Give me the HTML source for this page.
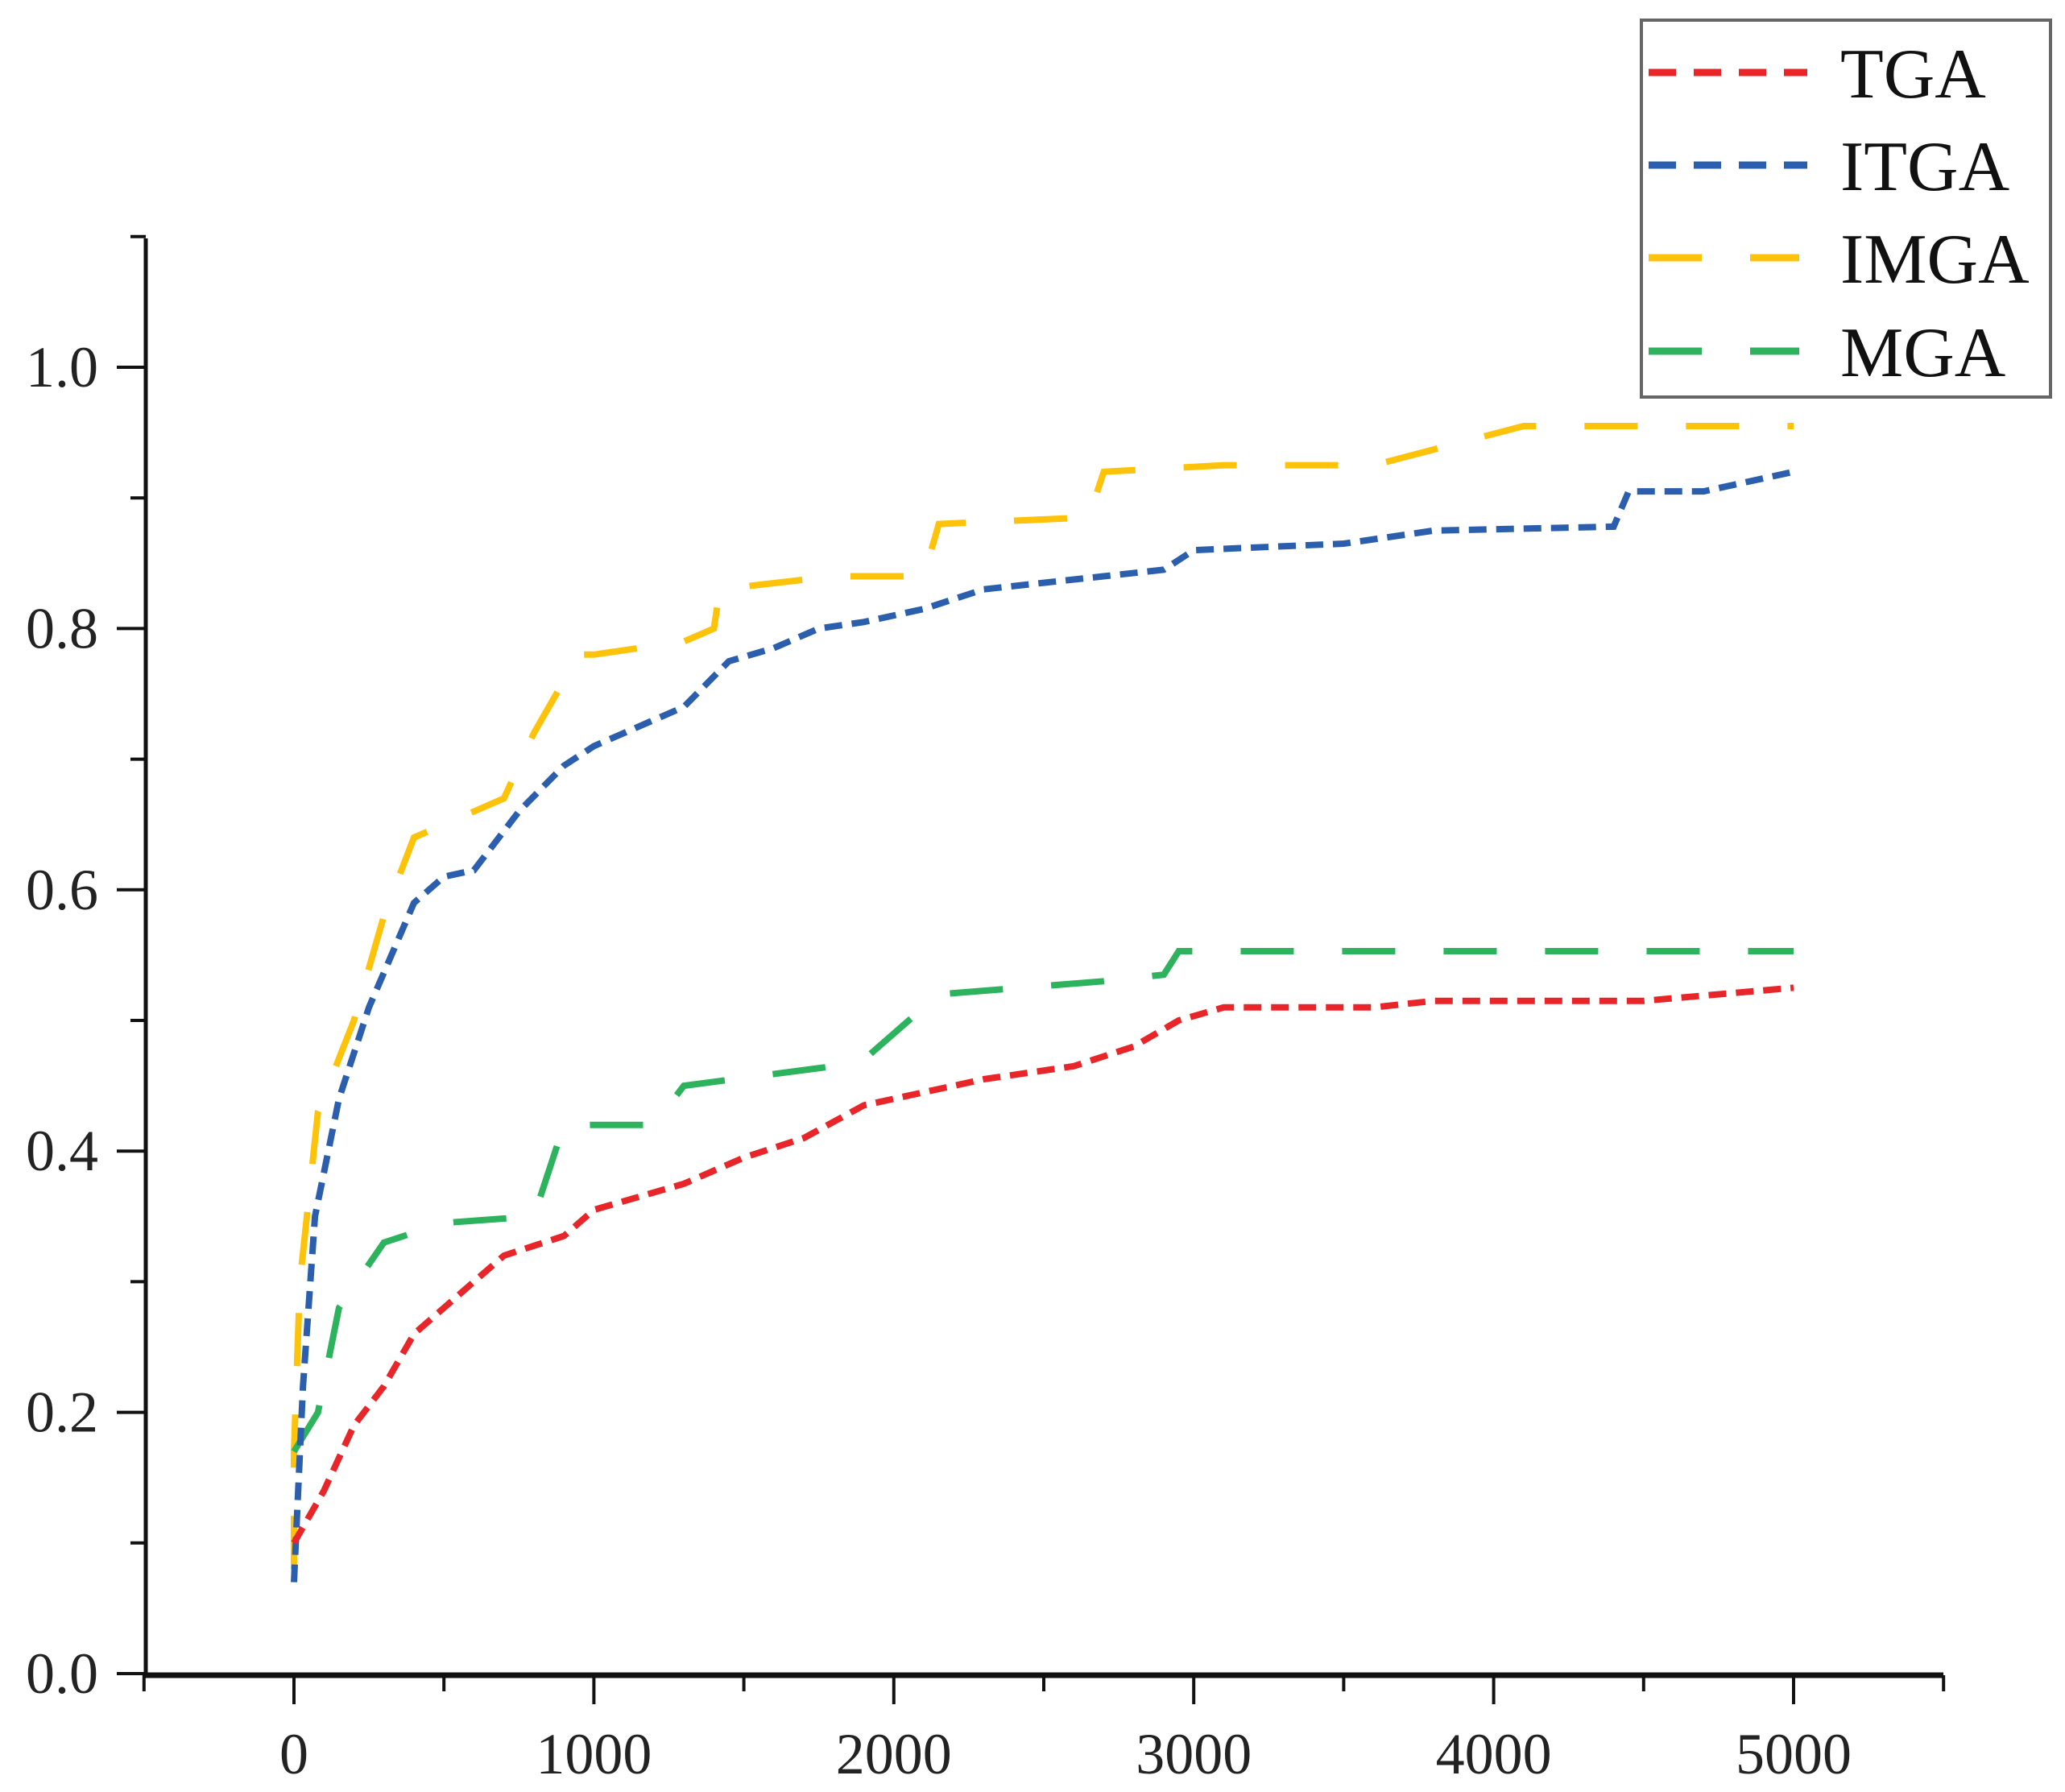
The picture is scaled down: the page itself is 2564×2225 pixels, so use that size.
<!DOCTYPE html>
<html><head><style>body{margin:0;background:#fff}svg{display:block}</style></head>
<body>
<svg id="s" width="2564" height="2225" xmlns="http://www.w3.org/2000/svg" font-family="Liberation Serif, serif">
<g id="ax" stroke="#111" stroke-width="5"></g>
<g id="lab" font-size="72" fill="#222"></g>
<g id="ser" fill="none" stroke-width="8"></g>
<rect x="2038" y="25" width="508" height="468" fill="#fff" stroke="#666" stroke-width="4"/>
<g stroke-width="9">
<line x1="2047" y1="90" x2="2244" y2="90" stroke="#e8262a" stroke-dasharray="34 22"/>
<line x1="2047" y1="205" x2="2244" y2="205" stroke="#2b5fad" stroke-dasharray="34 22"/>
<line x1="2047" y1="320" x2="2234" y2="320" stroke="#fcc30a" stroke-dasharray="66 60"/>
<line x1="2047" y1="436" x2="2234" y2="436" stroke="#2db35d" stroke-dasharray="66 60"/>
</g>
<g font-size="88" fill="#111">
<text x="2285" y="121">TGA</text>
<text x="2285" y="236">ITGA</text>
<text x="2285" y="351">IMGA</text>
<text x="2285" y="467">MGA</text>
</g>
</svg>
<script>
var NS="http://www.w3.org/2000/svg";
function el(p,t,a,txt){var e=document.createElementNS(NS,t);for(var k in a)e.setAttribute(k,a[k]);if(txt)e.textContent=txt;document.getElementById(p).appendChild(e);}
function X(v){return 365+v*1862/5000}function Y(v){return 2078-v*1622}
el('ax','line',{x1:181,y1:296,x2:181,y2:2080});
el('ax','line',{x1:179,y1:2080,x2:2413,y2:2080,'stroke-width':7});
for(var i=-1;i<=11;i++){var v=i*500,x=X(v),maj=(i>=0&&i%2==0);
 el('ax','line',{x1:x,y1:2080,x2:x,y2:maj?2116:2100,'stroke-width':4});
 if(maj&&v<=5000)el('lab','text',{x:x,y:2202,'text-anchor':'middle'},String(v));}
for(var j=0;j<=11;j++){var y=Y(j*0.1),maj=j%2==0;
 el('ax','line',{x1:maj?145:162,y1:y,x2:181,y2:y,'stroke-width':4});
 if(maj&&j<=10)el('lab','text',{x:122,y:y+24,'text-anchor':'end'},(j/10).toFixed(1));}
var S=[
["#fcc30a","66 60",[[0,0.08],[0,0.17],[20,0.3],[80,0.43],[200,0.5],[300,0.58],[400,0.64],[500,0.65],[700,0.67],[800,0.72],[950,0.78],[1000,0.78],[1300,0.79],[1400,0.80],[1420,0.83],[1800,0.84],[2100,0.84],[2150,0.88],[2650,0.885],[2700,0.92],[3100,0.925],[3600,0.925],[4100,0.955],[5000,0.955]]],
["#2db35d","66 60",[[0,0.17],[80,0.2],[150,0.28],[300,0.33],[500,0.345],[800,0.35],[900,0.42],[1200,0.42],[1300,0.45],[1800,0.465],[1900,0.47],[2000,0.49],[2150,0.52],[2700,0.53],[2900,0.535],[2950,0.553],[5000,0.553]]],
["#2b5fad","22 12",[[0,0.07],[30,0.22],[70,0.35],[150,0.44],[250,0.51],[400,0.59],[500,0.61],[600,0.615],[750,0.66],[900,0.695],[1000,0.71],[1100,0.72],[1300,0.74],[1450,0.775],[1600,0.785],[1750,0.8],[1900,0.805],[2100,0.815],[2300,0.83],[2500,0.835],[2700,0.84],[2900,0.845],[3000,0.86],[3500,0.865],[3800,0.875],[4400,0.878],[4450,0.905],[4700,0.905],[5000,0.92]]],
["#e8262a","22 12",[[0,0.1],[100,0.14],[200,0.19],[300,0.22],[400,0.26],[550,0.29],[700,0.32],[900,0.335],[1000,0.355],[1300,0.375],[1500,0.395],[1700,0.41],[1900,0.435],[2100,0.445],[2300,0.455],[2600,0.465],[2800,0.48],[2950,0.5],[3100,0.51],[3600,0.51],[3800,0.515],[4500,0.515],[5000,0.525]]]];
S.forEach(function(s){el('ser','polyline',{stroke:s[0],'stroke-dasharray':s[1],points:s[2].map(function(p){return X(p[0]).toFixed(1)+","+Y(p[1]).toFixed(1)}).join(" ")});});
</script>
</body></html>
